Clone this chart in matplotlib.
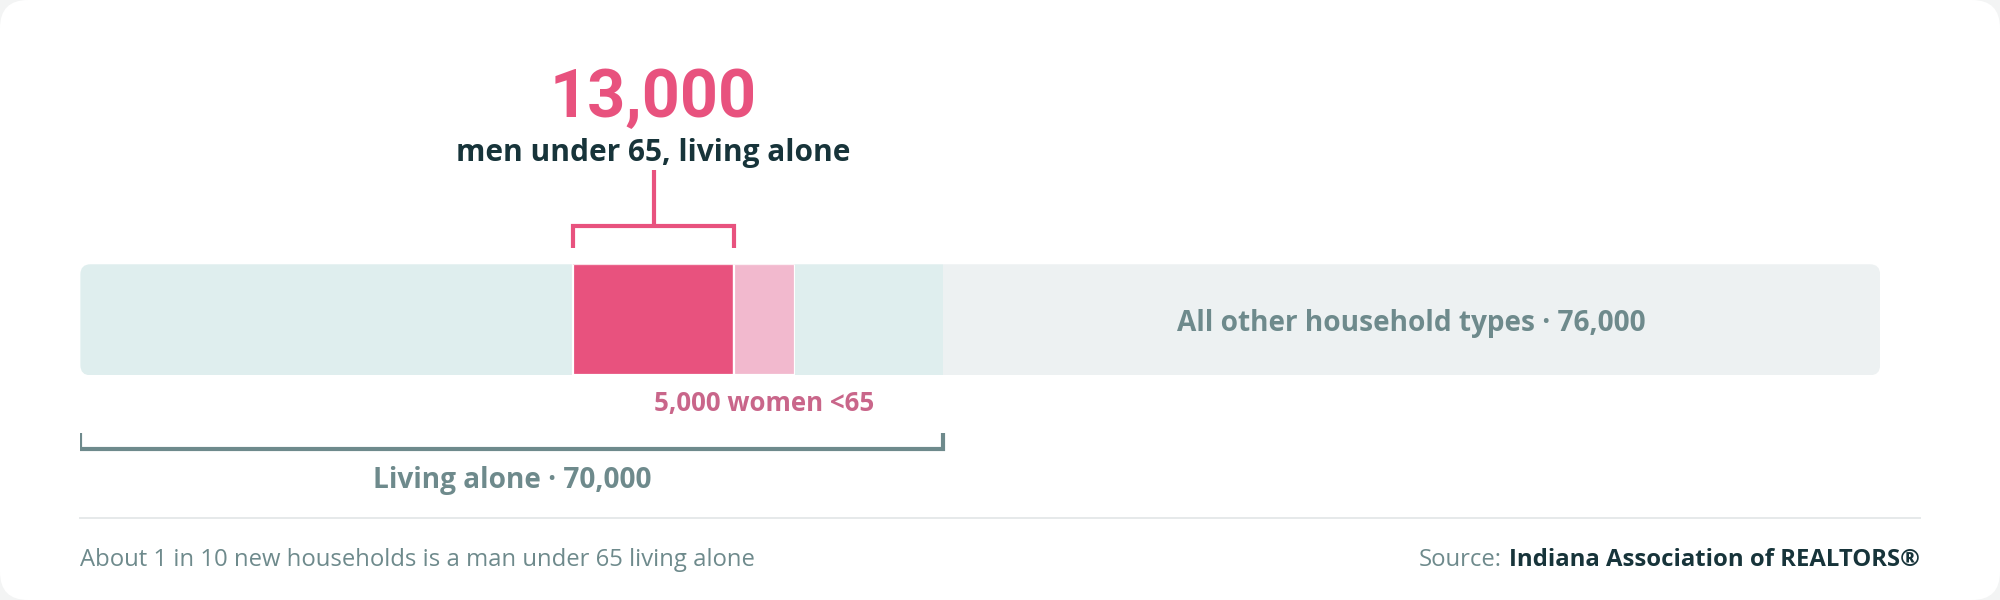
import matplotlib
matplotlib.use("Agg")
import matplotlib.pyplot as plt
from matplotlib.patches import FancyBboxPatch
import matplotlib.transforms as mtransforms

# data (households)
seg_names = ['living alone, other', 'men under 65', 'women under 65',
             'living alone, other', 'all other household types']
seg_values = [40000, 13000, 5000, 12000, 76000]
seg_colors = ['#dfeeee', '#e8527e', '#f2b9ce', '#dfeeee', '#edf1f2']
living_alone = 70000
men_u65 = 13000
women_u65 = 5000
other_types = 76000

headline = '13,000'
headline_sub = 'men under 65, living alone'
women_label = '5,000 women <65'
alone_label = 'Living alone · 70,000'
other_label = 'All other household types · 76,000'
footer_note = 'About 1 in 10 new households is a man under 65 living alone'
source_name = 'Indiana Association of REALTORS®'

PINK = '#e8527e'
GREY = '#6e8a8c'
DARK = '#17343a'
FONT = ['Open Sans', 'DejaVu Sans']

W, H = 1568, 470  # layout grid
fig = plt.figure(figsize=(20, 6), dpi=100)
fig.patch.set_facecolor('#f3f4f4')

# white card + layout axes in grid units
ax = fig.add_axes([0, 0, 1, 1])
ax.set_xlim(0, W)
ax.set_ylim(H, 0)
ax.axis('off')
ax.add_patch(FancyBboxPatch((0, 0), W, H, boxstyle='round,pad=0,rounding_size=22',
                            fc='white', ec='none', mutation_aspect=1))

# bar axes: x in households, y in grid units
left, right = 63, 1474
bx = fig.add_axes([left / W, 0, (right - left) / W, 1])
total = sum(seg_values)
bx.set_xlim(0, total)
bx.set_ylim(H, 0)
bx.axis('off')
bx.patch.set_alpha(0)

bar_top, bar_h = 207, 87
bar_y = bar_top + bar_h / 2
aspect = (right - left) / total  # grid px per household
clip = FancyBboxPatch((0, bar_top), total, bar_h,
                      boxstyle='round,pad=0,rounding_size=%f' % (8 / aspect),
                      mutation_aspect=aspect, fc='none', ec='none')
bx.add_patch(clip)

lefts = []
acc = 0
for v in seg_values:
    lefts.append(acc)
    acc += v
bars = bx.barh([bar_y] * len(seg_values), seg_values, left=lefts, height=bar_h,
               color=seg_colors, linewidth=0)
for b in bars:
    b.set_clip_path(clip)
for i in (1, 2):
    bars[i].set_edgecolor('white')
    bars[i].set_linewidth(1.6)

# pink bracket above men segment
m0 = lefts[1]
m1 = m0 + men_u65
mc = (m0 + m1) / 2
bx.plot([m0, m0, m1, m1], [194, 177, 177, 194], color=PINK, lw=3,
        solid_joinstyle='miter', solid_capstyle='butt')
bx.plot([mc, mc], [133, 177], color=PINK, lw=3, solid_capstyle='butt')
bx.text(mc, 92, headline, ha='center', va='baseline', color=PINK,
        fontsize=48, fontweight='bold', family=['Roboto', 'DejaVu Sans'])
bx.text(mc, 126, headline_sub, ha='center', va='baseline', color=DARK,
        fontsize=21.5, fontweight='bold', family=FONT)

# women label
w0 = lefts[2]
bx.text(w0 + women_u65 / 2, 322, women_label, ha='center', va='baseline',
        color='#c9668a', fontsize=18.6, fontweight='bold', family=FONT)

# living alone bracket
bx.plot([0, 0, living_alone, living_alone], [339, 352, 352, 339], color=GREY,
        lw=3, solid_joinstyle='miter', solid_capstyle='butt')
bx.text(living_alone / 2, 382, alone_label, ha='center', va='baseline',
        color=GREY, fontsize=20.2, fontweight='bold', family=FONT)

# other households label
bx.text(living_alone + other_types / 2, 259, other_label, ha='center',
        va='baseline', color=GREY, fontsize=20.2, fontweight='bold', family=FONT)

# footer
ax.plot([63, 1505], [406, 406], color='#e6e9ea', lw=1.4)
ax.text(63, 443, footer_note, ha='left', va='baseline', color=GREY,
        fontsize=17.2, family=FONT)
src = ax.text(1505, 443, source_name, ha='right', va='baseline', color=DARK,
              fontsize=17.2, fontweight='bold', family=FONT)
fig.canvas.draw()
bb = src.get_window_extent()
ax.text(1505, 443, 'Source:', ha='right', va='baseline', color=GREY,
        fontsize=17.2, family=FONT, transform=mtransforms.offset_copy(
            ax.transData, fig=fig, x=-(bb.width + 7), units='dots'))

fig.savefig('out.png', dpi=100, facecolor=fig.get_facecolor())
